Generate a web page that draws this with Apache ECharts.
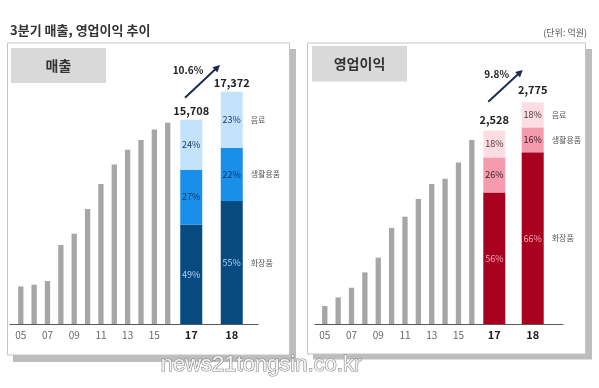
<!DOCTYPE html>
<html><head><meta charset="utf-8">
<script src="https://cdn.jsdelivr.net/npm/echarts@6/dist/echarts.min.js"></script>
<style>html,body{margin:0;padding:0;background:#fff}#c{width:599px;height:388px}</style>
</head><body><div id="c"></div>
<script>
// ---- data ----
const histYears = ['05','06','07','08','09','10','11','12','13','14','15','16'];
const recentYears = ['17','18'];
const segNames = ['화장품','생활용품','음료'];

const salesHistory = [2849, 2978, 3258, 5985, 6841, 8713, 10607, 12092, 13206, 13941, 14744, 15251];
const salesCosmetics = [7546, 9319];
const salesHousehold = [4144, 4038];
const salesBeverage = [3788, 4243];
const salesTotals = [15708, 17372];
const salesShareCosmetics = [49, 55];
const salesShareHousehold = [27, 22];
const salesShareBeverage = [24, 23];
const salesGrowth = '10.6%';

const profitHistory = [230, 340, 463, 659, 847, 1226, 1370, 1596, 1788, 1855, 2063, 2349];
const profitCosmetics = [1680, 2191];
const profitHousehold = [447, 319];
const profitBeverage = [341, 319];
const profitTotals = [2528, 2775];
const profitShareCosmetics = [56, 66];
const profitShareHousehold = [26, 16];
const profitShareBeverage = [18, 18];
const profitGrowth = '9.8%';

// ---- styles ----
const FONT = '"Noto Sans CJK KR", "Noto Sans", sans-serif';
const GREY = '#a6a6a6';
const panels = [
  {hist: salesHistory, segs: [salesCosmetics, salesHousehold, salesBeverage],
   shares: [salesShareCosmetics, salesShareHousehold, salesShareBeverage], totals: salesTotals,
   colors: ['#074a80', '#1890ea', '#c2e3fb'], labelColors: ['#a9d4f6', '#0d3566', '#1d3a66'],
   max: 20000, top: 60, height: 264,
   histLeft: 14.1, histWidth: 160.3, recLeft: 171, recWidth: 81, axisLeft: 10, axisWidth: 248,
   totalGap: [3, 3]},
  {hist: profitHistory, segs: [profitCosmetics, profitHousehold, profitBeverage],
   shares: [profitShareCosmetics, profitShareHousehold, profitShareBeverage], totals: profitTotals,
   colors: ['#a8001f', '#f59bad', '#fcdde3'], labelColors: ['#f7a9b9', '#3b1a22', '#4a3a3d'],
   max: 3000, top: 89, height: 235,
   histLeft: 318.1, histWidth: 160.4, recLeft: 475.1, recWidth: 76.8, axisLeft: 315, axisWidth: 248,
   totalGap: [5, 7]}
];

const grids = [], xAxes = [], yAxes = [], series = [];
panels.forEach((p, pi) => {
  const g0 = grids.length;
  const gb = g => ({left: g[0], width: g[1], top: p.top, height: p.height});
  grids.push(gb([p.histLeft, p.histWidth]), gb([p.recLeft, p.recWidth]), gb([p.axisLeft, p.axisWidth]));
  xAxes.push(
    {type: 'category', gridIndex: g0, data: histYears, axisLine: {show: false}, axisTick: {show: false},
     axisLabel: {interval: 1, color: '#666', fontSize: 10, margin: 6, fontFamily: FONT}},
    {type: 'category', gridIndex: g0 + 1, data: recentYears, axisLine: {show: false}, axisTick: {show: false},
     axisLabel: {color: '#222', fontSize: 11, fontWeight: 'bold', margin: 5, fontFamily: FONT}},
    {type: 'category', gridIndex: g0 + 2, data: [''], axisLine: {show: true, lineStyle: {color: '#5a5a5a', width: 1.2}},
     axisTick: {show: false}, axisLabel: {show: false}}
  );
  for (let k = 0; k < 3; k++) yAxes.push({type: 'value', gridIndex: g0 + k, min: 0, max: p.max, show: false, splitLine: {show: false}});
  series.push({type: 'bar', xAxisIndex: g0, yAxisIndex: g0, data: p.hist, barWidth: 5.3, itemStyle: {color: GREY}, silent: true});
  p.segs.forEach((vals, si) => {
    series.push({
      type: 'bar', name: segNames[si], stack: 'a' + pi, xAxisIndex: g0 + 1, yAxisIndex: g0 + 1,
      data: vals, barWidth: 22, barGap: '-100%', itemStyle: {color: p.colors[si]},
      label: {show: true, position: 'inside', color: p.labelColors[si], fontSize: 9, fontFamily: FONT,
              formatter: q => p.shares[si][q.dataIndex] + '%'}
    });
  });
  series.push({
    type: 'bar', name: 'total', stack: 'a' + pi, xAxisIndex: g0 + 1, yAxisIndex: g0 + 1, barWidth: 22, barGap: '-100%',
    data: p.totals.map((t, i) => ({value: 0, label: {distance: p.totalGap[i]}})),
    itemStyle: {color: 'rgba(0,0,0,0)'},
    label: {show: true, position: 'top', color: '#222', fontSize: 11, fontWeight: 'bold', fontFamily: FONT,
            formatter: q => p.totals[q.dataIndex].toLocaleString('en-US')}
  });
  p.segs.forEach((vals, si) => {
    series.push({
      type: 'bar', name: segNames[si], stack: 'n' + pi, xAxisIndex: g0 + 1, yAxisIndex: g0 + 1,
      data: vals, barWidth: 22, barGap: '-100%', itemStyle: {color: 'rgba(0,0,0,0)'},
      label: {show: true, position: 'right', distance: 8, color: '#555', fontSize: 8, fontFamily: FONT,
              formatter: q => q.dataIndex === 1 ? segNames[si] : ''}
    });
  });
});

function arrow(x1, y1, x2, y2, color) {
  const dx = x2 - x1, dy = y2 - y1, L = Math.hypot(dx, dy), ux = dx / L, uy = dy / L;
  const hl = 7, hw = 3.6, bx = x2 - ux * hl, by = y2 - uy * hl;
  return [
    {type: 'line', z: 50, shape: {x1, y1, x2: bx + ux, y2: by + uy}, style: {stroke: color, lineWidth: 2}},
    {type: 'polygon', z: 50, shape: {points: [[x2, y2], [bx - uy * hw, by + ux * hw], [bx + uy * hw, by - ux * hw]]}, style: {fill: color}}
  ];
}

const graphic = [
  {type: 'rect', z: -10, shape: {x: 13, y: 49, width: 283, height: 313}, style: {fill: '#bdbdbd'}},
  {type: 'rect', z: -9, shape: {x: 7.5, y: 43, width: 282, height: 312}, style: {fill: '#fff', stroke: '#c4c4c4', lineWidth: 1}},
  {type: 'rect', z: -10, shape: {x: 313, y: 49, width: 279, height: 310.5}, style: {fill: '#bdbdbd'}},
  {type: 'rect', z: -9, shape: {x: 307.5, y: 43, width: 278, height: 311}, style: {fill: '#fff', stroke: '#c4c4c4', lineWidth: 1}},
  {type: 'rect', z: -8, shape: {x: 11, y: 48, width: 95, height: 35}, style: {fill: '#d9d9d9'}},
  {type: 'rect', z: -8, shape: {x: 312, y: 46, width: 95, height: 35.5}, style: {fill: '#d9d9d9'}},
  {type: 'text', z: 40, x: 58.5, y: 66, style: {text: '매출', font: 'bold 14px ' + FONT, fill: '#333', textAlign: 'center', textVerticalAlign: 'middle'}},
  {type: 'text', z: 40, x: 359.5, y: 64, style: {text: '영업이익', font: 'bold 14px ' + FONT, fill: '#333', textAlign: 'center', textVerticalAlign: 'middle'}},
  {type: 'text', z: 40, x: 10, y: 30.5, style: {text: '3분기 매출, 영업이익 추이', font: 'bold 13px ' + FONT, fill: '#333', textAlign: 'left', textVerticalAlign: 'middle'}},
  {type: 'text', z: 40, x: 587, y: 32.5, style: {text: '(단위: 억원)', font: '9px ' + FONT, fill: '#555', textAlign: 'right', textVerticalAlign: 'middle'}},
  ...arrow(185, 97.7, 220, 65, '#1f2a55'),
  ...arrow(488.3, 101.7, 522.7, 70, '#1f2a55'),
  {type: 'text', z: 40, x: 188, y: 70, style: {text: salesGrowth, font: 'bold 10px ' + FONT, fill: '#222', textAlign: 'center', textVerticalAlign: 'middle'}},
  {type: 'text', z: 40, x: 496.7, y: 74, style: {text: profitGrowth, font: 'bold 10px ' + FONT, fill: '#222', textAlign: 'center', textVerticalAlign: 'middle'}},
  {type: 'text', z: 100, x: 261, y: 365, style: {text: 'news21tongsin.co.kr', font: '22px "Liberation Sans", sans-serif', fill: '#f2f2f2', stroke: '#888', lineWidth: 1.2, textAlign: 'center', textVerticalAlign: 'middle'}}
];

const chart = echarts.init(document.getElementById('c'));
chart.setOption({animation: false, backgroundColor: '#fff', grid: grids, xAxis: xAxes, yAxis: yAxes, series, graphic});
</script></body></html>
